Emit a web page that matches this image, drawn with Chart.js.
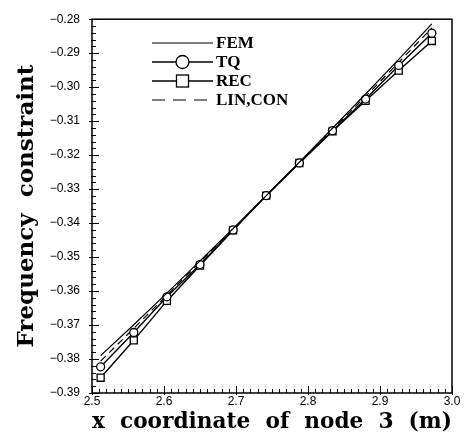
<!DOCTYPE html>
<html>
<head>
<meta charset="utf-8">
<script src="https://cdn.jsdelivr.net/npm/chart.js@4.4.1/dist/chart.umd.min.js"></script>
<style>
  html, body { margin: 0; padding: 0; background: #fff; }
  #wrap { width: 466px; height: 443px; }
</style>
</head>
<body>
<div id="wrap"><canvas id="freqChart" width="466" height="443"></canvas></div>
<script>
// x coordinate of node 3 vs frequency constraint

const xNode = [2.512, 2.558, 2.604, 2.650, 2.696, 2.742, 2.788, 2.834, 2.880, 2.926, 2.972];
const femValues = [-0.3790, -0.3699, -0.3606, -0.3511, -0.3416, -0.3319, -0.3221, -0.3121, -0.3020, -0.2918, -0.2814];
const tqValues = [-0.3823, -0.3722, -0.3617, -0.3522, -0.3420, -0.3319, -0.3223, -0.3128, -0.3035, -0.2936, -0.2841];
const recValues = [-0.3855, -0.3745, -0.3629, -0.3525, -0.3421, -0.3319, -0.3223, -0.3130, -0.3040, -0.2951, -0.2864];
const linValues = [-0.3806, -0.3710, -0.3612, -0.3515, -0.3418, -0.3319, -0.3222, -0.3124, -0.3027, -0.2927, -0.2826];
const seriesLabels = ['FEM', 'TQ', 'REC', 'LIN,CON'];

function toPoints(vals) {
    return vals.map((v, i) => ({ x: xNode[i], y: v }));
}

function fmtY(v) {
    return '\u2212' + Math.abs(v).toFixed(2);
}

// frame, inward ticks and the custom legend
const framePlugin = {
    id: 'frame',
    afterDraw(chart) {
        const ctx = chart.ctx;
        const a = chart.chartArea;
        const xs = chart.scales.x;
        const ys = chart.scales.y;
        ctx.save();
        ctx.strokeStyle = '#000';
        ctx.lineWidth = 1.5;
        ctx.strokeRect(a.left, a.top, a.right - a.left, a.bottom - a.top);

        ctx.lineWidth = 1;
        ctx.beginPath();
        for (let i = 0; i <= 50; i++) {
            const v = xs.min + i * 0.01;
            const px = Math.round(xs.getPixelForValue(v)) + 0.5;
            const major = i % 10 === 0;
            ctx.moveTo(px, a.bottom + (major ? 2 : 0));
            ctx.lineTo(px, a.bottom - (major ? 7 : 4));
        }
        for (let i = 0; i <= 55; i++) {
            const v = ys.min + i * 0.002;
            const py = Math.round(ys.getPixelForValue(v)) + 0.5;
            const major = i % 5 === 0;
            ctx.moveTo(a.left - (major ? 3 : 1), py);
            ctx.lineTo(a.left + (major ? 7 : 4), py);
        }
        ctx.stroke();

        // legend
        const rows = [43, 62, 81, 100];
        const x0 = 152, x1 = 213;
        ctx.font = 'bold 17px "Liberation Serif", serif';
        ctx.textBaseline = 'middle';
        ctx.fillStyle = '#000';
        chart.data.datasets.forEach((ds, i) => {
            const y = rows[i];
            ctx.lineWidth = ds.borderWidth;
            ctx.setLineDash(i === 3 ? [13, 8] : []);
            ctx.beginPath();
            ctx.moveTo(x0, y);
            ctx.lineTo(x1, y);
            ctx.stroke();
            ctx.setLineDash([]);
            const cx = (x0 + x1) / 2;
            ctx.lineWidth = 1.3;
            if (ds.pointStyle === 'circle' && ds.pointRadius > 0) {
                ctx.beginPath();
                ctx.arc(cx, y, 6.5, 0, Math.PI * 2);
                ctx.fillStyle = '#fff';
                ctx.fill();
                ctx.stroke();
            } else if (ds.pointStyle === 'rect' && ds.pointRadius > 0) {
                ctx.fillStyle = '#fff';
                ctx.fillRect(cx - 6, y - 6, 12, 12);
                ctx.strokeRect(cx - 6, y - 6, 12, 12);
            }
            ctx.fillStyle = '#000';
            ctx.fillText(ds.label, x1 + 3, y + 1);
        });
        ctx.restore();
    }
};

const ctx = document.getElementById('freqChart').getContext('2d');

new Chart(ctx, {
    type: 'line',
    data: {
        datasets: [
            {
                label: seriesLabels[0],
                data: toPoints(femValues),
                borderColor: '#000',
                borderWidth: 1.2,
                pointRadius: 0,
                pointStyle: 'circle'
            },
            {
                label: seriesLabels[1],
                data: toPoints(tqValues),
                borderColor: '#000',
                borderWidth: 1.4,
                pointStyle: 'circle',
                pointRadius: 4,
                pointBorderWidth: 1.3,
                pointBorderColor: '#000',
                pointBackgroundColor: '#fff'
            },
            {
                label: seriesLabels[2],
                data: toPoints(recValues),
                borderColor: '#000',
                borderWidth: 1.4,
                pointStyle: 'rect',
                pointRadius: 5,
                pointBorderWidth: 1.3,
                pointBorderColor: '#000',
                pointBackgroundColor: '#fff'
            },
            {
                label: seriesLabels[3],
                data: toPoints(linValues),
                borderColor: '#000',
                borderWidth: 1.2,
                borderDash: [7, 5],
                pointRadius: 0,
                pointStyle: 'line'
            }
        ]
    },
    plugins: [framePlugin],
    options: {
        responsive: false,
        animation: false,
        layout: { padding: { left: 0, top: 13, right: 14, bottom: 0 } },
        plugins: {
            legend: { display: false },
            tooltip: { enabled: false }
        },
        scales: {
            x: {
                type: 'linear',
                min: 2.5,
                max: 3.0,
                afterFit: s => { s.height = 50; },
                grid: { display: false, drawTicks: false },
                border: { display: false },
                ticks: {
                    stepSize: 0.1,
                    padding: 1,
                    maxRotation: 0,
                    color: '#000',
                    font: { family: '"Liberation Sans", Arial, sans-serif', size: 12 },
                    callback: v => v.toFixed(1)
                },
                title: {
                    display: true,
                    text: 'x  coordinate  of  node  3  (m)',
                    color: '#000',
                    font: { family: '"DejaVu Serif", serif', size: 22, weight: 'bold' },
                    padding: { top: 0, bottom: 8 }
                }
            },
            y: {
                type: 'linear',
                min: -0.39,
                max: -0.28,
                afterFit: s => { s.width = 92; },
                grid: { display: false, drawTicks: false },
                border: { display: false },
                ticks: {
                    stepSize: 0.01,
                    padding: 12,
                    color: '#000',
                    font: { family: '"Liberation Sans", Arial, sans-serif', size: 12 },
                    callback: v => fmtY(v)
                },
                title: {
                    display: true,
                    text: 'Frequency  constraint',
                    color: '#000',
                    font: { family: '"DejaVu Serif", serif', size: 23, weight: 'bold' },
                    padding: { top: 13, bottom: 0 }
                }
            }
        }
    }
});
</script>
</body>
</html>
